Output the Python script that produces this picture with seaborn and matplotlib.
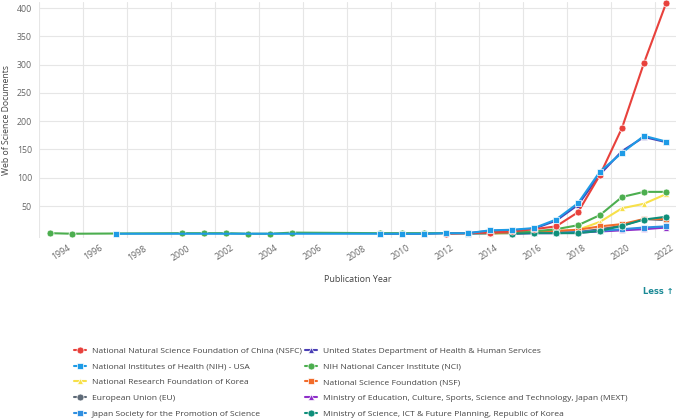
import numpy as np
import pandas as pd
import matplotlib
matplotlib.use("Agg")
import matplotlib.pyplot as plt
import matplotlib.transforms as mtransforms
import seaborn as sns

# ---------------- data ----------------
years = list(range(1994, 2023))

series_names = [
    "National Natural Science Foundation of China (NSFC)",
    "National Institutes of Health (NIH) - USA",
    "National Research Foundation of Korea",
    "European Union (EU)",
    "Japan Society for the Promotion of Science",
    "United States Department of Health & Human Services",
    "NIH National Cancer Institute (NCI)",
    "National Science Foundation (NSF)",
    "Ministry of Education, Culture, Sports, Science and Technology, Japan (MEXT)",
    "Ministry of Science, ICT & Future Planning, Republic of Korea",
]

nsfc = {2012: 1, 2013: 2, 2014: 3, 2015: 5, 2016: 9, 2017: 14, 2018: 39,
        2019: 105, 2020: 188, 2021: 303, 2022: 408}
nih = {1997: 1, 2009: 1, 2010: 1, 2011: 1, 2012: 2, 2013: 2, 2014: 7, 2015: 8,
       2016: 11, 2017: 26, 2018: 55, 2019: 111, 2020: 144, 2021: 174, 2022: 164}
nrf = {2013: 1, 2014: 1, 2015: 2, 2016: 3, 2017: 5, 2018: 8, 2019: 22,
       2020: 46, 2021: 54, 2022: 71}
eu = {2012: 2, 2013: 2, 2014: 2, 2015: 3, 2016: 3, 2017: 3, 2018: 4,
      2019: 9, 2020: 15, 2021: 27, 2022: 25}
jsps = {2013: 1, 2014: 2, 2015: 2, 2016: 3, 2017: 3, 2018: 4, 2019: 6,
        2020: 9, 2021: 12, 2022: 14}
dhhs = {2009: 1, 2010: 1, 2011: 1, 2012: 2, 2013: 2, 2014: 6, 2015: 7,
        2016: 10, 2017: 24, 2018: 52, 2019: 106, 2020: 147, 2021: 172, 2022: 163}
nci = {1994: 2, 1995: 1, 2000: 2, 2001: 2, 2002: 2, 2003: 1, 2004: 1, 2005: 3,
       2009: 2, 2010: 2, 2011: 2, 2012: 2, 2013: 2, 2014: 3, 2015: 4, 2016: 5,
       2017: 9, 2018: 16, 2019: 34, 2020: 66, 2021: 75, 2022: 75}
nsf = {2014: 2, 2015: 3, 2016: 4, 2017: 6, 2018: 8, 2019: 14, 2020: 18,
       2021: 27, 2022: 27}
mext = {2015: 1, 2016: 2, 2017: 2, 2018: 3, 2019: 5, 2020: 7, 2021: 9, 2022: 12}
msip = {2015: 1, 2016: 2, 2017: 2, 2018: 2, 2019: 6, 2020: 15, 2021: 26, 2022: 31}

series_values = [nsfc, nih, nrf, eu, jsps, dhhs, nci, nsf, mext, msip]

colors = ["#e8413c", "#1e9be6", "#f7e04a", "#5f6b78", "#2f8fe0",
          "#4a3fb5", "#4cae4f", "#f26c2b", "#8e2fc9", "#0f8f7a"]
marker_list = ["o", "s", "^", "o", "s", "^", "o", "s", "^", "o"]
# drawing layer of each series (higher = on top)
layer = [2.10, 2.30, 2.03, 2.04, 2.05, 2.02, 2.07, 2.06, 2.01, 2.09]

x_tick_years = list(range(1994, 2023, 2))
y_ticks = [50, 100, 150, 200, 250, 300, 350, 400]

# ---------------- build table ----------------
rows = []
for name, vals in zip(series_names, series_values):
    for y in years:
        if y in vals:
            rows.append({"year": y, "value": vals[y], "series": name})
df = pd.DataFrame(rows)

palette = dict(zip(series_names, colors))
markers = dict(zip(series_names, marker_list))

# ---------------- figure ----------------
sns.set_theme(style="white")
plt.rcParams["font.family"] = ["Open Sans", "DejaVu Sans"]

W, H = 676, 419
fig = plt.figure(figsize=(W / 100, H / 100), dpi=100)
ax_left, ax_right, ax_top, ax_bottom = 39, 676, 2, 238
ax = fig.add_axes([ax_left / W, 1 - ax_bottom / H,
                   (ax_right - ax_left) / W, (ax_bottom - ax_top) / H])

sns.lineplot(data=df, x="year", y="value", hue="series", style="series",
             hue_order=series_names, style_order=series_names,
             palette=palette, markers=markers, dashes=False,
             linewidth=1.5, markersize=5.0, markeredgecolor="white",
             markeredgewidth=0.5, legend=False, ax=ax, sort=True,
             errorbar=None, clip_on=False)

lines = ax.get_lines()[:len(series_names)]
for ln, z in zip(lines, layer):
    ln.set_zorder(z)

# axis ranges (px mapping: 400 -> y=8, 0 -> y=234.3)
ppu = (206 - 8) / 350.0
y0px = 234.3
ax.set_ylim(-(ax_bottom - y0px) / ppu, (y0px - ax_top) / ppu)
ax.set_xlim(1993.5, 1994 + (ax_right - 50) / 22.0)

for s in ax.spines.values():
    s.set_visible(False)

ax.set_yticks(y_ticks)
ax.set_yticklabels([str(v) for v in y_ticks])
ax.set_xticks(x_tick_years)
ax.set_xticklabels([str(v) for v in x_tick_years])
ax.set_xticks([v - 0.5 for v in x_tick_years], minor=True)

ax.grid(False)
ax.yaxis.grid(True, color="#e6e6e6", linewidth=0.8)
ax.xaxis.grid(True, which="minor", color="#e6e6e6", linewidth=0.8)
ax.set_axisbelow(True)

ax.tick_params(axis="both", which="both", length=0, colors="#666666",
               labelsize=6.3)
ax.tick_params(axis="y", pad=5)
ax.tick_params(axis="x", pad=4)

for i, lab in enumerate(ax.get_xticklabels()):
    lab.set_rotation(33)
    lab.set_ha("right")
    lab.set_va("top")
    lab.set_rotation_mode("anchor")
    dx = 5 / 100 if i > 0 else 17 / 100
    lab.set_transform(lab.get_transform() +
                      mtransforms.ScaledTranslation(dx, 0, fig.dpi_scale_trans))

ax.set_xlabel("")
ax.set_ylabel("")
fig.text(7 / W, 1 - 120 / H, "Web of Science Documents", rotation=90,
         ha="center", va="center", fontsize=6.2, color="#444444")
fig.text(358 / W, 1 - 280 / H, "Publication Year", ha="center", va="center",
         fontsize=6.5, color="#444444")
fig.text(674 / W, 1 - 291 / H, "Less \u2191", ha="right", va="center",
         fontsize=6.0, color="#1b8a96", fontweight="bold",
         family=["DejaVu Sans"])

# legend
leg = fig.legend(lines, series_names, loc="upper left",
                 bbox_to_anchor=(74 / W, 1 - 347 / H), ncol=2,
                 frameon=False, fontsize=6.1, handlelength=1.4,
                 handletextpad=0.7, columnspacing=0.4, labelspacing=0.92,
                 borderpad=0, borderaxespad=0)
for t in leg.get_texts():
    t.set_color("#444444")

fig.savefig("out.png", dpi=100)
